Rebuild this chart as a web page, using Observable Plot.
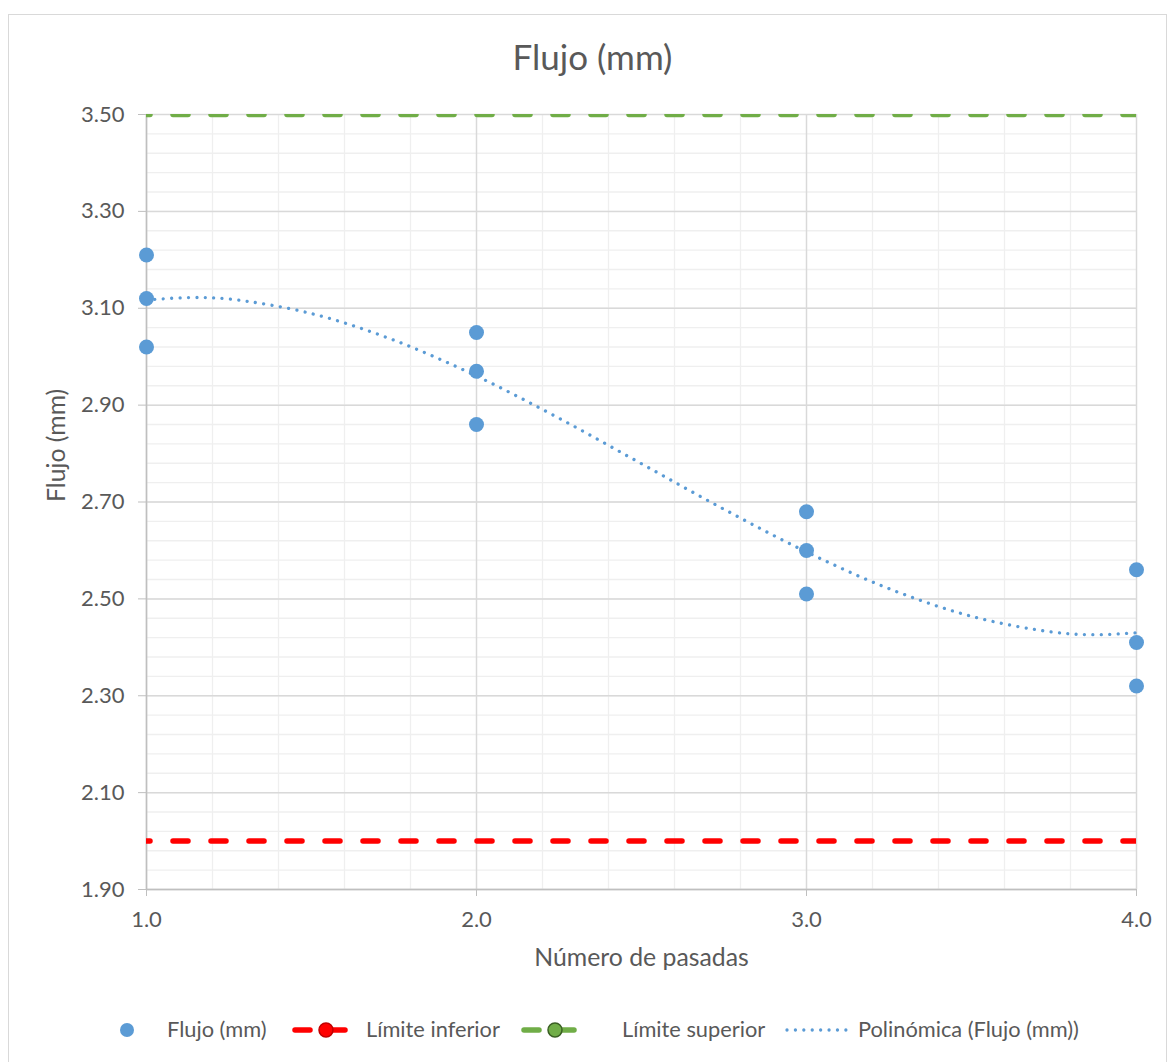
<!DOCTYPE html>
<html>
<head>
<meta charset="utf-8">
<script src="https://cdn.jsdelivr.net/npm/d3@7"></script>
<script src="https://cdn.jsdelivr.net/npm/@observablehq/plot@0.6"></script>
<style>
  html, body { margin: 0; padding: 0; background: #fff; }
  body { width: 1169px; height: 1062px; position: relative; overflow: hidden; font-family: Lato, "Open Sans", sans-serif; color: #595959; }
  #frame { position: absolute; left: 8px; top: 14px; width: 1159px; height: 1060px; border: 1.5px solid #D9D9D9; box-sizing: border-box; }
  #title { position: absolute; left: 0; width: 1169px; top: 39px; text-align: center; font-size: 35px; line-height: 35px; padding-left: 16px; box-sizing: border-box; }
  #chart { position: absolute; left: 0; top: 84px; }
  .lg { position: absolute; top: 1017px; font-size: 21.8px; line-height: 24px; white-space: nowrap; }
  .sw { position: absolute; top: 1020px; }
</style>
</head>
<body>
<div id="frame"></div>
<div id="title">Flujo (mm)</div>
<div id="chart"></div>
<div id="legend"></div>
<script>
// ---- data ----
const passes = [1, 1, 1, 2, 2, 2, 3, 3, 3, 4, 4, 4];
const flujo  = [3.21, 3.12, 3.02, 3.05, 2.97, 2.86, 2.68, 2.60, 2.51, 2.56, 2.41, 2.32];

const limitX     = [1, 4];
const lowerLimit = [2.00, 2.00];
const upperLimit = [3.50, 3.50];

// polynomial trendline, points
const trendX = [1.0, 1.125, 1.25, 1.5, 1.75, 2.0, 2.25, 2.5, 2.75, 3.0, 3.25, 3.5, 3.75, 3.875, 4.0];
const trendY = [3.117, 3.122, 3.119, 3.089, 3.034, 2.960, 2.873, 2.779, 2.685, 2.597, 2.521, 2.464, 2.431, 2.426, 2.430];

const xTicks = [1, 2, 3, 4];
const yTicks = [1.9, 2.1, 2.3, 2.5, 2.7, 2.9, 3.1, 3.3, 3.5];
const xMinor = [1.2, 1.4, 1.6, 1.8, 2.2, 2.4, 2.6, 2.8, 3.2, 3.4, 3.6, 3.8];
const yMinor = d3.range(1.90, 3.5, 0.04).map(v => +v.toFixed(2));

const seriesNames = ["Flujo (mm)", "Límite inferior", "Límite superior", "Polinómica (Flujo (mm))"];
const colors = { blue: "#5B9BD5", red: "#FF0000", green: "#70AD47" };

// tables
const points = passes.map((p, i) => ({ x: p, y: flujo[i] }));
const lower = limitX.map((x, i) => ({ x, y: lowerLimit[i] }));
const upper = limitX.map((x, i) => ({ x, y: upperLimit[i] }));
const trend = trendX.map((x, i) => ({ x, y: trendY[i] }));

const chart = Plot.plot({
  width: 1169,
  height: 900,
  marginTop: 30,
  marginBottom: 95,
  marginLeft: 146,
  marginRight: 33,
  x: { domain: [1, 4] },
  y: { domain: [1.9, 3.5] },
  style: { fontFamily: "Lato, 'Open Sans', sans-serif", color: "#595959", background: "transparent", overflow: "visible" },
  marks: [
    Plot.gridX(xMinor, { stroke: "#EFEFEF", strokeOpacity: 1, strokeWidth: 1.3 }),
    Plot.gridY(yMinor, { stroke: "#EFEFEF", strokeOpacity: 1, strokeWidth: 1.3 }),
    Plot.gridX(xTicks, { stroke: "#D9D9D9", strokeOpacity: 1, strokeWidth: 1.5 }),
    Plot.gridY(yTicks, { stroke: "#D9D9D9", strokeOpacity: 1, strokeWidth: 1.5 }),
    Plot.ruleX([1], { stroke: "#BFBFBF", strokeWidth: 1.5 }),
    Plot.ruleY([1.9], { stroke: "#BFBFBF", strokeWidth: 1.5 }),
    Plot.line(lower, { x: "x", y: "y", stroke: colors.red, strokeWidth: 5.5, strokeDasharray: "15 23", strokeDashoffset: 11.5, strokeLinecap: "round", clip: true }),
    Plot.line(upper, { x: "x", y: "y", stroke: colors.green, strokeWidth: 5.5, strokeDasharray: "15 23", strokeDashoffset: 11.5, strokeLinecap: "round", clip: true }),
    Plot.line(trend, { x: "x", y: "y", curve: "catmull-rom", stroke: colors.blue, strokeWidth: 3.3, strokeDasharray: "0.01 8.4", strokeLinecap: "round" }),
    Plot.dot(points, { x: "x", y: "y", r: 7.5, fill: colors.blue }),
    Plot.axisX(xTicks, { tickFormat: d3.format(".1f"), tickSize: 7, tickPadding: 15, stroke: "#BFBFBF", fill: "#595959", fontSize: 22, label: null }),
    Plot.axisY(yTicks, { tickFormat: d3.format(".2f"), tickSize: 8, tickPadding: 14, stroke: "#BFBFBF", fill: "#595959", fontSize: 22, label: null }),
    Plot.text(["Número de pasadas"], { frameAnchor: "bottom", dy: 76, fontSize: 24.8, fill: "#595959" }),
    Plot.text(["Flujo (mm)"], { frameAnchor: "left", rotate: -90, dx: -89, fontSize: 24.8, fill: "#595959" })
  ]
});
document.getElementById("chart").appendChild(chart);

// ---- legend ----
const legend = document.getElementById("legend");
const ns = "http://www.w3.org/2000/svg";
function swatch(left, width, draw) {
  const s = document.createElementNS(ns, "svg");
  s.setAttribute("width", width);
  s.setAttribute("height", 20);
  s.setAttribute("class", "sw");
  s.style.left = left + "px";
  s.innerHTML = draw;
  legend.appendChild(s);
}
function label(left, text) {
  const d = document.createElement("div");
  d.className = "lg";
  d.style.left = left + "px";
  d.textContent = text;
  legend.appendChild(d);
}
swatch(117, 20, `<circle cx="10" cy="10" r="7" fill="${colors.blue}"/>`);
label(167, seriesNames[0]);
swatch(290, 60, `<line x1="5" y1="10" x2="20" y2="10" stroke="${colors.red}" stroke-width="5.5" stroke-linecap="round"/>
  <line x1="40" y1="10" x2="55" y2="10" stroke="${colors.red}" stroke-width="5.5" stroke-linecap="round"/>
  <circle cx="36" cy="10" r="7" fill="${colors.red}" stroke="#C00000" stroke-width="1.5"/>`);
label(366, seriesNames[1]);
swatch(519, 60, `<line x1="5" y1="10" x2="20" y2="10" stroke="${colors.green}" stroke-width="5.5" stroke-linecap="round"/>
  <line x1="40" y1="10" x2="55" y2="10" stroke="${colors.green}" stroke-width="5.5" stroke-linecap="round"/>
  <circle cx="36" cy="10" r="7" fill="${colors.green}" stroke="#3A5F23" stroke-width="1.5"/>`);
label(622, seriesNames[2]);
swatch(782, 70, `<line x1="5" y1="10" x2="64" y2="10" stroke="${colors.blue}" stroke-width="3.3" stroke-dasharray="0.01 8.4" stroke-linecap="round"/>`);
label(858, seriesNames[3]);
</script>
</body>
</html>
